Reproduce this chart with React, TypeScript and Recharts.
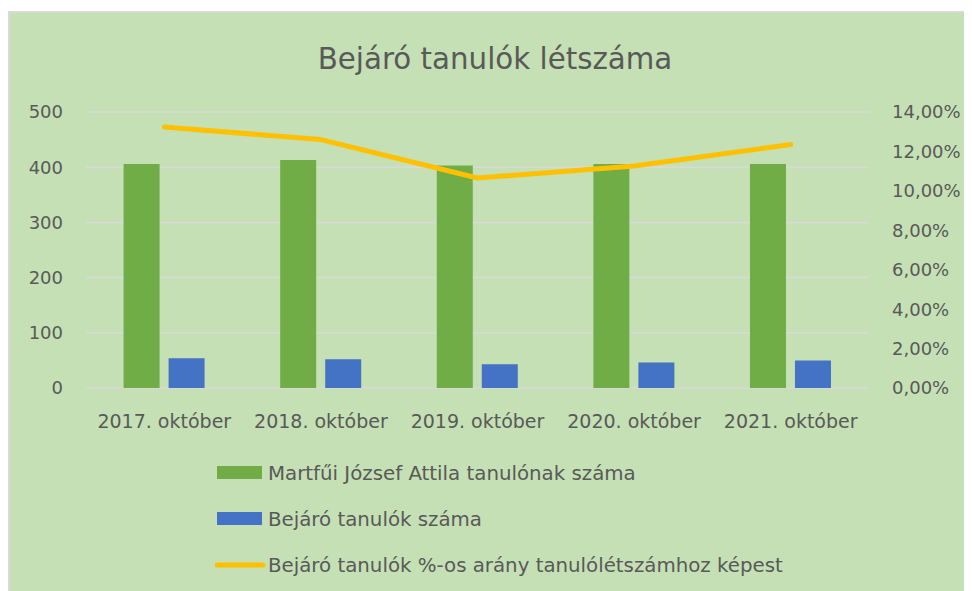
import {
  Bar,
  CartesianGrid,
  ComposedChart,
  Legend,
  Line,
  XAxis,
  YAxis,
} from 'recharts';

const categories = ['2017. október', '2018. október', '2019. október', '2020. október', '2021. október'];
const totalStudents = [406, 413, 403, 406, 406];
const commuters = [54, 52, 43, 46, 50];
const commuterShare = [0.1324, 0.126, 0.1065, 0.1126, 0.1235];

const leftTicks = [0, 100, 200, 300, 400, 500];
const rightTicks = [0, 0.02, 0.04, 0.06, 0.08, 0.1, 0.12, 0.14];

const seriesNames = [
  'Martfűi József Attila tanulónak száma',
  'Bejáró tanulók száma',
  'Bejáró tanulók %-os arány tanulólétszámhoz képest',
];

const data = categories.map((name, i) => ({
  name,
  total: totalStudents[i],
  commuters: commuters[i],
  share: commuterShare[i],
}));

const FONT = '"DejaVu Sans", sans-serif';
const TEXT = '#595959';

const pct = (v: number) => `${(v * 100).toFixed(2).replace('.', ',')}%`;

// legend payload comes sorted by name, put it back in series order
function LegendList({ payload }: any) {
  const items = [...(payload || [])].sort(
    (a: any, b: any) => seriesNames.indexOf(a.value) - seriesNames.indexOf(b.value),
  );
  return (
    <div style={{ fontFamily: FONT, fontSize: 19.8, color: TEXT }}>
      {items.map((p: any) => (
        <div key={p.value} style={{ height: 46, display: 'flex', alignItems: 'center' }}>
          <svg width={53} height={16} style={{ display: 'block' }}>
            {p.type === 'line' ? (
              <line x1={2} y1={8} x2={48} y2={8} stroke={p.color} strokeWidth={5} strokeLinecap="round" />
            ) : (
              <rect x={2} y={1} width={45} height={13} fill={p.color} />
            )}
          </svg>
          <span style={{ whiteSpace: 'nowrap' }}>{p.value}</span>
        </div>
      ))}
    </div>
  );
}

export default function App() {
  return (
    <div
      style={{
        position: 'relative',
        marginTop: 3,
        width: 964,
        height: 580,
        background: '#C5E0B4',
        borderTop: '2px solid #D9D9D9',
        borderLeft: '2px solid #D9D9D9',
      }}
    >
      <div
        style={{
          position: 'absolute',
          top: 32,
          left: 0,
          width: 970,
          textAlign: 'center',
          fontFamily: FONT,
          fontSize: 29.3,
          lineHeight: '29px',
          color: TEXT,
        }}
      >
        Bejáró tanulók létszáma
      </div>
      <ComposedChart
        width={962}
        height={578}
        data={data}
        margin={{ top: 99, right: 0, bottom: 163, left: 0 }}
        barCategoryGap="24%"
        barGap={9}
      >
        <CartesianGrid vertical={false} stroke="#D9D9D9" strokeWidth={1.5} yAxisId="left" />
        <XAxis
          dataKey="name"
          axisLine={false}
          tickLine={false}
          tickSize={0}
          tickMargin={27}
          height={40}
          interval={0}
          tick={{ fontSize: 19, fill: TEXT, fontFamily: FONT }}
        />
        <YAxis
          yAxisId="left"
          domain={[0, 500]}
          ticks={leftTicks}
          width={76}
          axisLine={false}
          tickLine={false}
          tickSize={0}
          tickMargin={23}
          tick={{ fontSize: 18, fill: TEXT, fontFamily: FONT }}
        />
        <YAxis
          yAxisId="right"
          orientation="right"
          domain={[0, 0.14]}
          ticks={rightTicks}
          tickFormatter={pct}
          width={103}
          axisLine={false}
          tickLine={false}
          tickSize={0}
          tickMargin={23}
          tick={{ fontSize: 18, fill: TEXT, fontFamily: FONT, textAnchor: 'start' }}
        />
        <Bar yAxisId="left" dataKey="total" name={seriesNames[0]} fill="#70AD47" legendType="rect" isAnimationActive={false} />
        <Bar yAxisId="left" dataKey="commuters" name={seriesNames[1]} fill="#4472C4" legendType="rect" isAnimationActive={false} />
        <Line
          yAxisId="right"
          dataKey="share"
          name={seriesNames[2]}
          type="linear"
          stroke="#FFC000"
          strokeWidth={5}
          strokeLinecap="round"
          strokeLinejoin="round"
          dot={false}
          activeDot={false}
          legendType="line"
          isAnimationActive={false}
        />
        <Legend
          layout="vertical"
          align="center"
          verticalAlign="middle"
          content={<LegendList />}
          wrapperStyle={{ position: 'absolute', top: 437, left: 205, width: 'auto', height: 'auto' }}
        />
      </ComposedChart>
    </div>
  );
}
